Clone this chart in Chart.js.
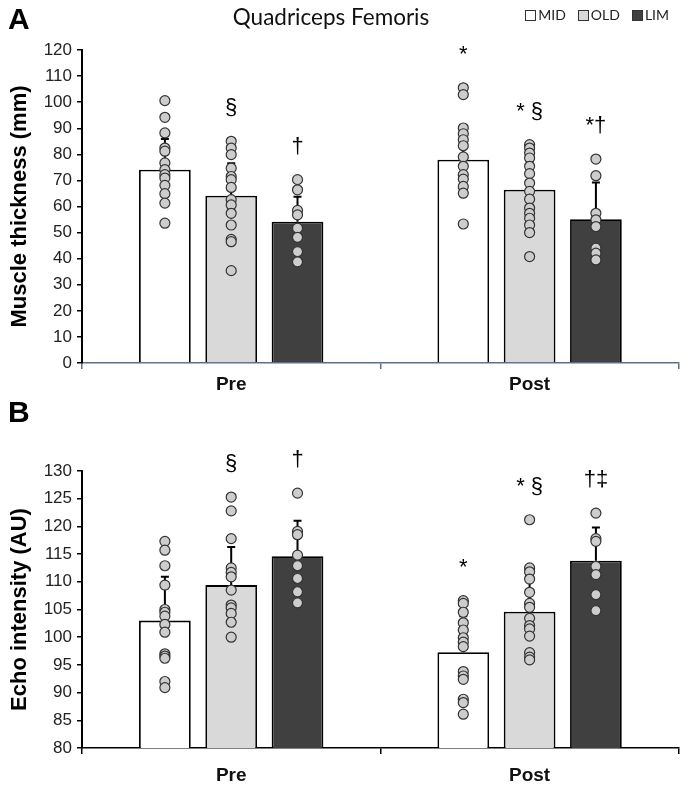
<!DOCTYPE html>
<html>
<head>
<meta charset="utf-8">
<script src="https://cdn.jsdelivr.net/npm/chart.js@4.4.1/dist/chart.umd.min.js"></script>
<style>
    body { margin: 0; background: #fff; }
    #wrap { position: relative; width: 685px; height: 808px; }
    canvas { position: absolute; left: 0; }
    .panel { position: absolute; left: 8px; font: bold 30px 'Liberation Sans', Arial, sans-serif; color: #000; }
    #title { position: absolute; top: 3px; left: 331px; transform: translateX(-50%); font: 22.5px Lato, sans-serif; color: #111; white-space: nowrap; }
    #legend { position: absolute; top: 6px; right: 16px; display: flex; gap: 12px; font: 14px Lato, sans-serif; color: #222; }
    #legend .box { display: inline-block; width: 9px; height: 9px; border: 1.5px solid #333; margin-right: 2px; vertical-align: -1px; }
</style>
</head>
<body>
<div id="wrap">
    <canvas id="thickChart" width="685" height="400" style="top:0"></canvas>
    <canvas id="echoChart" width="685" height="408" style="top:400px"></canvas>
    <div class="panel" style="top:2px">A</div>
    <div class="panel" style="top:395px">B</div>
    <div id="title">Quadriceps Femoris</div>
    <div id="legend"></div>
</div>
<script>
// Categories and groups
const timepoints = ['Pre', 'Post'];
const groupNames = ['MID', 'OLD', 'LIM'];
const groupColors = ['#ffffff', '#d9d9d9', '#404040'];

// Panel A: muscle thickness (mm), mean [Pre, Post] and upper SD
const thickMeanMID = [74.1, 77.9];
const thickMeanOLD = [64.1, 66.4];
const thickMeanLIM = [54.2, 55.1];
const thickSdMID = [11.8, 13.1];
const thickSdOLD = [12.5, 11.0];
const thickSdLIM = [9.5, 14.1];

// Panel A: individual values
const thickPreMID = [100.6, 94.2, 88.2, 82.4, 81.2, 76.7, 74.1, 72.2, 70.9, 68.1, 64.9, 61.3, 53.6];
const thickPreOLD = [85.0, 82.4, 79.9, 74.7, 71.5, 70.3, 67.3, 62.6, 60.6, 57.4, 52.9, 47.4, 46.5, 35.4];
const thickPreLIM = [70.3, 66.4, 58.5, 56.8, 51.7, 48.2, 42.7, 38.8];
const thickPostMID = [105.5, 102.9, 90.1, 87.9, 85.6, 83.3, 79.0, 75.4, 72.2, 70.5, 67.7, 65.1, 53.3];
const thickPostOLD = [83.7, 82.4, 80.5, 78.6, 75.4, 72.6, 69.0, 65.8, 62.8, 59.4, 57.4, 55.5, 52.9, 50.0, 40.8];
const thickPostLIM = [78.2, 71.8, 57.4, 54.9, 52.3, 44.0, 42.1, 39.5];

// Panel A: significance marks [Pre, Post]
const thickMarksMID = ['', '*'];
const thickMarksOLD = ['\u00a7', '* \u00a7'];
const thickMarksLIM = ['\u2020', '*\u2020'];

// Panel B: echo intensity (AU), mean [Pre, Post] and upper SD
const echoMeanMID = [103.0, 97.3];
const echoMeanOLD = [109.4, 104.6];
const echoMeanLIM = [114.6, 113.8];
const echoSdMID = [7.9, 6.5];
const echoSdOLD = [6.9, 6.5];
const echoSdLIM = [6.4, 6.0];

// Panel B: individual values
const echoPreMID = [117.3, 115.7, 112.9, 109.4, 105.0, 104.5, 103.8, 102.3, 100.9, 97.0, 96.6, 96.2, 92.0, 90.9];
const echoPreOLD = [125.3, 122.8, 117.8, 112.5, 111.7, 110.9, 108.5, 105.8, 105.3, 104.3, 102.7, 100.0];
const echoPreLIM = [126.0, 119.1, 118.5, 114.8, 112.9, 110.6, 108.2, 106.2];
const echoPostMID = [106.6, 106.1, 104.5, 102.6, 101.3, 99.9, 99.1, 98.3, 93.8, 93.0, 92.4, 88.8, 88.2, 86.1];
const echoPostOLD = [121.2, 112.5, 111.8, 110.5, 108.1, 106.1, 105.4, 103.4, 102.1, 101.5, 100.2, 97.2, 96.4, 95.9];
const echoPostLIM = [122.4, 117.8, 117.3, 112.8, 111.3, 107.7, 104.8];

// Panel B: significance marks [Pre, Post]
const echoMarksMID = ['', '*'];
const echoMarksOLD = ['\u00a7', '* \u00a7'];
const echoMarksLIM = ['\u2020', '\u2020\u2021'];

const GROUP_STEP = 2 / 9;   // spacing of the three bars inside a timepoint, in category units
const AXIS_FONT = "'Liberation Sans', Arial, sans-serif";

function slot(timeIdx, g) {
    return timeIdx + (g - 1) * GROUP_STEP;
}

function buildDatasets(means, sds, pre, post, marks) {
    const bars = groupNames.map((name, g) => ({
        type: 'bar',
        label: name,
        data: means[g].map((v, t) => ({ x: slot(t, g), y: v })),
        xAxisID: 'xp',
        grouped: false,
        errorUp: sds[g],
        marks: marks[g],
        tops: [
            Math.max(means[g][0] + sds[g][0], ...pre[g]),
            Math.max(means[g][1] + sds[g][1], ...post[g])
        ],
        backgroundColor: groupColors[g],
        borderColor: '#000',
        borderWidth: 1.8,
        categoryPercentage: 1,
        barPercentage: 0.78,
        order: 2
    }));
    const points = groupNames.map((name, g) => ({
        type: 'scatter',
        label: name + ' individual',
        data: pre[g].map(v => ({ x: slot(0, g), y: v }))
            .concat(post[g].map(v => ({ x: slot(1, g), y: v }))),
        xAxisID: 'xp',
        pointRadius: 5,
        pointBackgroundColor: '#cdcdcd',
        pointBorderColor: '#333',
        pointBorderWidth: 1.2,
        order: 1
    }));
    return bars.concat(points);
}

// upper error bars, drawn after each bar dataset and before the dots
const errorBarPlugin = {
    id: 'errorBars',
    afterDatasetDraw(chart, args) {
        const ds = chart.data.datasets[args.index];
        if (!ds.errorUp) return;
        const y = chart.scales.y;
        const ctx = chart.ctx;
        ctx.save();
        ctx.strokeStyle = '#000';
        ctx.lineWidth = 2;
        args.meta.data.forEach((bar, i) => {
            const top = y.getPixelForValue(ds.data[i].y + ds.errorUp[i]);
            ctx.beginPath();
            ctx.moveTo(bar.x, bar.y);
            ctx.lineTo(bar.x, top);
            ctx.moveTo(bar.x - 4, top);
            ctx.lineTo(bar.x + 4, top);
            ctx.stroke();
        });
        ctx.restore();
    }
};

// significance symbols above each group
const marksPlugin = {
    id: 'sigMarks',
    afterDatasetsDraw(chart) {
        const ctx = chart.ctx;
        const y = chart.scales.y;
        ctx.save();
        ctx.font = '22px ' + AXIS_FONT;
        ctx.textAlign = 'center';
        ctx.textBaseline = 'middle';
        ctx.fillStyle = '#000';
        chart.data.datasets.forEach((ds, di) => {
            if (!ds.marks) return;
            chart.getDatasetMeta(di).data.forEach((bar, i) => {
                if (ds.marks[i]) ctx.fillText(ds.marks[i], bar.x, y.getPixelForValue(ds.tops[i]) - 33);
            });
        });
        ctx.restore();
    }
};

function drawPanel(canvasId, p) {
    return new Chart(document.getElementById(canvasId), {
        type: 'bar',
        data: { labels: timepoints, datasets: p.datasets },
        options: {
            responsive: false,
            animation: false,
            devicePixelRatio: 1,
            layout: { padding: { top: p.padTop, right: 5, left: 0, bottom: 0 } },
            plugins: {
                legend: { display: false },
                tooltip: { enabled: false },
                title: { display: false }
            },
            scales: {
                x: {
                    type: 'category',
                    offset: true,
                    afterFit: s => { s.height = p.xHeight; },
                    grid: { drawOnChartArea: false, tickLength: 6, color: p.xColor, lineWidth: 1.5 },
                    border: { color: p.xColor, width: 1.5 },
                    ticks: { color: '#111', padding: p.xPad, font: { family: AXIS_FONT, size: 19, weight: 'bold' } }
                },
                xp: {
                    type: 'linear',
                    display: false,
                    offset: false,
                    min: -0.5,
                    max: 1.5,
                    ticks: { stepSize: 0.5 }
                },
                y: {
                    min: p.yMin,
                    max: p.yMax,
                    afterFit: s => { s.width = 82; },
                    ticks: { stepSize: p.yStep, color: '#222', padding: 5, font: { family: AXIS_FONT, size: 17 } },
                    grid: { drawOnChartArea: false, tickLength: 5, color: '#000', lineWidth: 1.5 },
                    border: { color: '#000', width: 2 },
                    title: {
                        display: true,
                        text: p.yTitle,
                        color: '#000',
                        padding: { top: 7, bottom: 0 },
                        font: { family: AXIS_FONT, size: 22, weight: 'bold' }
                    }
                }
            }
        },
        plugins: [errorBarPlugin, marksPlugin]
    });
}

document.getElementById('legend').innerHTML = groupNames.map((n, g) =>
    '<span><span class="box" style="background:' + groupColors[g] + '"></span>' + n + '</span>').join('');

drawPanel('thickChart', {
    datasets: buildDatasets(
        [thickMeanMID, thickMeanOLD, thickMeanLIM],
        [thickSdMID, thickSdOLD, thickSdLIM],
        [thickPreMID, thickPreOLD, thickPreLIM],
        [thickPostMID, thickPostOLD, thickPostLIM],
        [thickMarksMID, thickMarksOLD, thickMarksLIM]),
    padTop: 50, xHeight: 37, xPad: 4, xColor: '#5b6f8d',
    yMin: 0, yMax: 120, yStep: 10, yTitle: 'Muscle thickness (mm)'
});

drawPanel('echoChart', {
    datasets: buildDatasets(
        [echoMeanMID, echoMeanOLD, echoMeanLIM],
        [echoSdMID, echoSdOLD, echoSdLIM],
        [echoPreMID, echoPreOLD, echoPreLIM],
        [echoPostMID, echoPostOLD, echoPostLIM],
        [echoMarksMID, echoMarksOLD, echoMarksLIM]),
    padTop: 71, xHeight: 60, xPad: 10, xColor: '#000',
    yMin: 80, yMax: 130, yStep: 5, yTitle: 'Echo intensity (AU)'
});
</script>
</body>
</html>
